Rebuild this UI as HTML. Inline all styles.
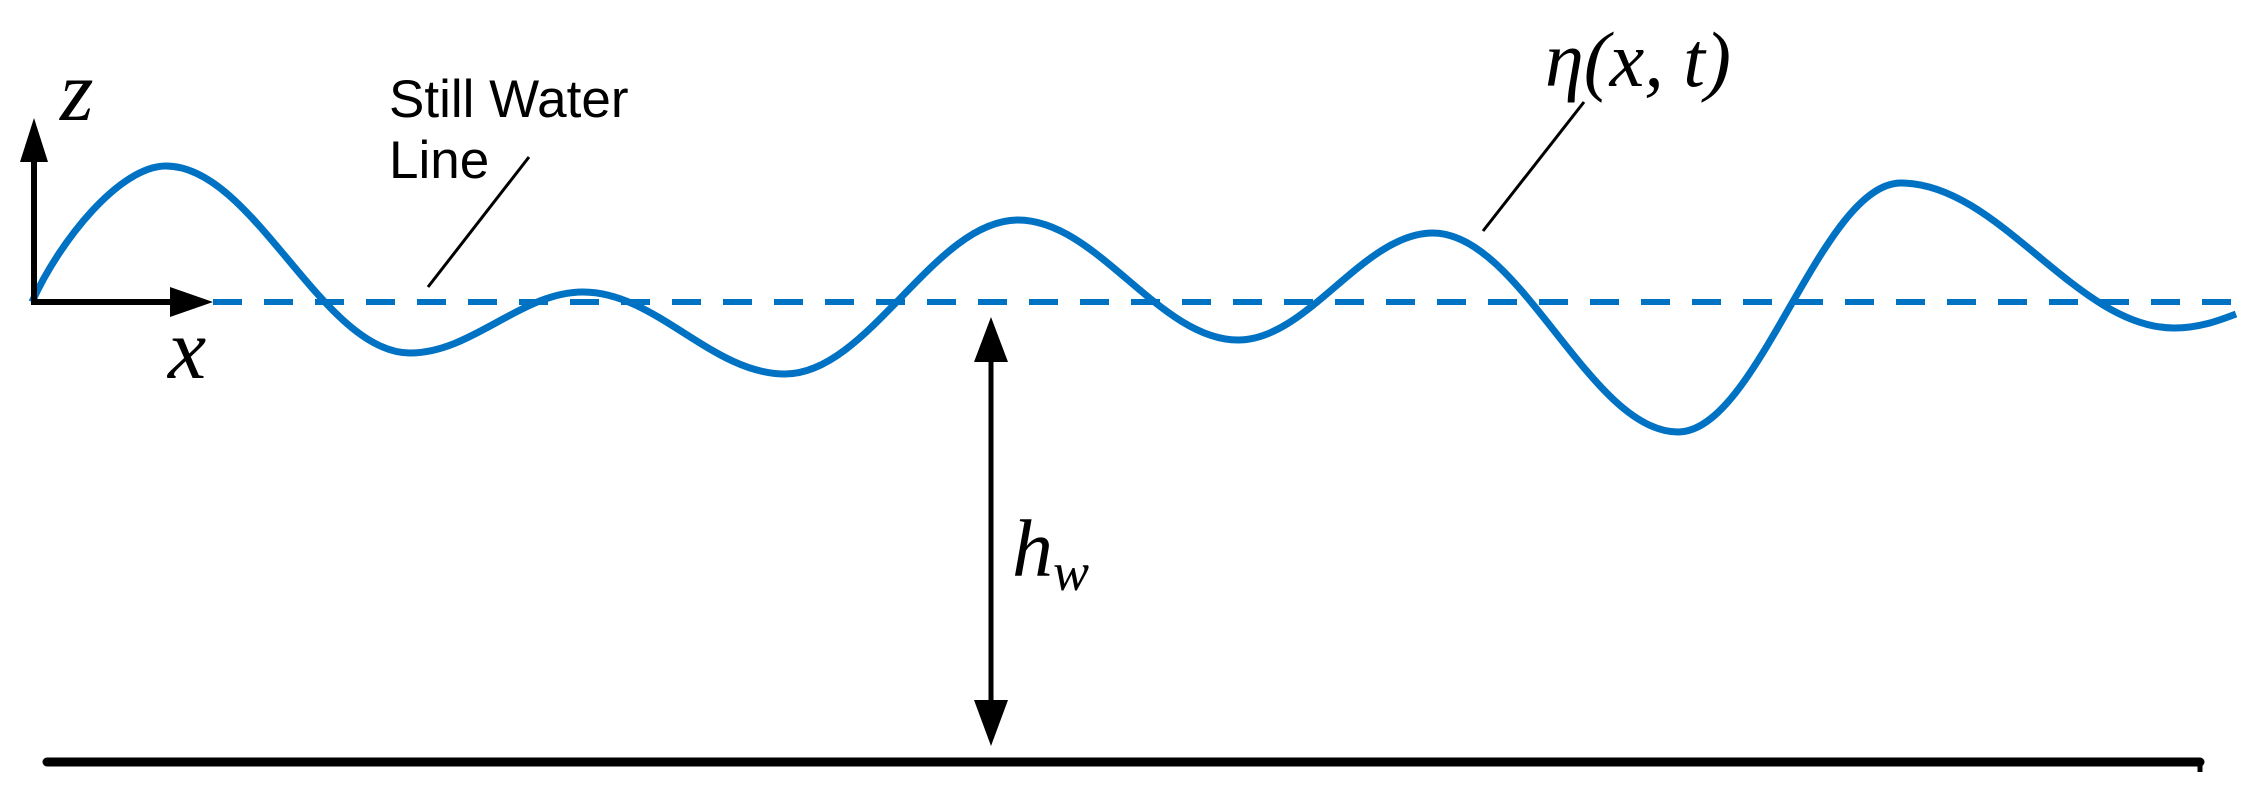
<!DOCTYPE html>
<html><head><meta charset="utf-8"><style>
html,body{margin:0;padding:0;background:#fff;}
svg{display:block;}
.m{font-family:"Liberation Serif",serif;font-style:italic;fill:#000;}
.s{font-family:"Liberation Sans",sans-serif;fill:#000;}
</style></head><body>
<svg width="2246" height="791" viewBox="0 0 2246 791" xmlns="http://www.w3.org/2000/svg">
<line x1="213" y1="302" x2="2240" y2="302" stroke="#0072C3" stroke-width="6" stroke-dasharray="29 22"/>
<path d="M32,302 C60,240 120,166 166,166 C254,166 322,353 410,353 C472,353 521,292 583,292 C656,292 712,374 785,374 C869,374 934,220 1018,220 C1097,220 1159,340 1238,340 C1308,340 1363,233 1433,233 C1521,233 1590,432 1678,432 C1758,432 1821,183 1901,183 C1999,183 2076,328 2174,328 C2200,328 2220,320 2236,314" fill="none" stroke="#0072C3" stroke-width="7"/>
<line x1="34" y1="304" x2="34" y2="160" stroke="#000" stroke-width="6"/>
<polygon points="34,118 20,162 48,162" fill="#000"/>
<line x1="31" y1="302" x2="175" y2="302" stroke="#000" stroke-width="6"/>
<polygon points="213,302 170,287 170,317" fill="#000"/>
<text class="m" x="60" y="120" font-size="86">z</text>
<text class="m" x="168" y="378" font-size="86">x</text>
<text class="s" x="389" y="117" font-size="53">Still Water</text>
<text class="s" x="389" y="178" font-size="53">Line</text>
<line x1="529" y1="157" x2="428" y2="287" stroke="#000" stroke-width="3"/>
<text class="m" x="1545" y="86" font-size="78">η(x, t)</text>
<line x1="1584" y1="102" x2="1483" y2="231" stroke="#000" stroke-width="3"/>
<line x1="991" y1="350" x2="991" y2="710" stroke="#000" stroke-width="5"/>
<polygon points="991,317 974,362 1008,362" fill="#000"/>
<polygon points="991,746 974,700 1008,700" fill="#000"/>
<text class="m" x="1012" y="576" font-size="82">h<tspan font-size="54" dy="14">w</tspan></text>
<line x1="47" y1="762" x2="2200" y2="762" stroke="#000" stroke-width="9" stroke-linecap="round"/>
<line x1="2200" y1="762" x2="2200" y2="772" stroke="#000" stroke-width="5"/>
</svg>
</body></html>
